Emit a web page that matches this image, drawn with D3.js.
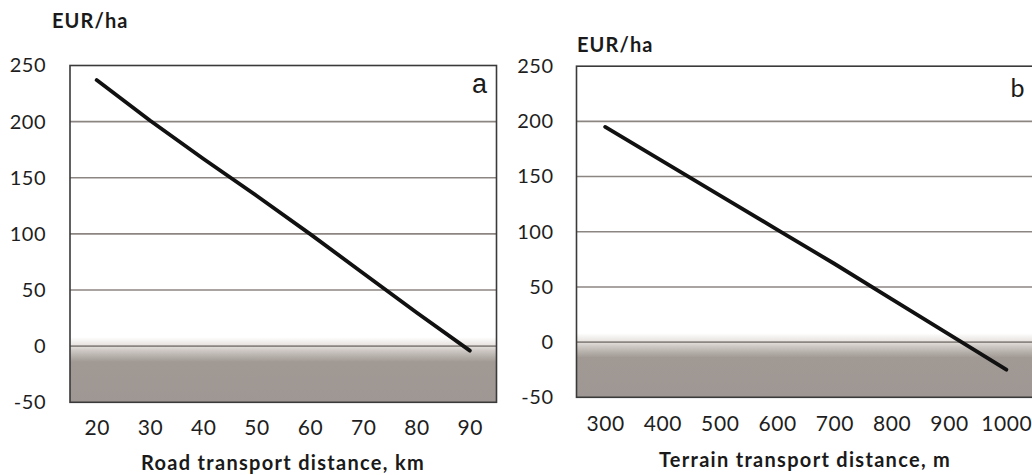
<!DOCTYPE html>
<html>
<head>
<meta charset="utf-8">
<script src="https://cdn.jsdelivr.net/npm/d3@7"></script>
<style>
  body { margin: 0; background: #fff; }
  svg text { font-family: Lato, "Open Sans", sans-serif; }
</style>
</head>
<body>
<div id="chart"></div>
<script>
// y axis is shared by both panels
const yTicks = [-50, 0, 50, 100, 150, 200, 250];

// panel a: road transport
const roadTicks = [20, 30, 40, 50, 60, 70, 80, 90];
const roadKm = [20, 30, 40, 50, 60, 70, 80, 90];
const roadValue = [237, 201, 167, 134, 100, 65, 30, -4];

// panel b: terrain transport
const terrainTicks = [300, 400, 500, 600, 700, 800, 900, 1000];
const terrainM = [300, 400, 500, 600, 700, 800, 900, 1000];
const terrainValue = [195, 164, 133, 102, 71, 39, 7, -25];

const width = 1032;
const height = 475;

const svg = d3.select('#chart')
  .append('svg')
  .attr('width', width)
  .attr('height', height);

const defs = svg.append('defs');

// plain hyphen for negatives, like the original
const fmt = (d) => String(d);

const drawPanel = (p) => {
  const xScale = d3.scaleLinear().domain(p.xDomain).range([p.left, p.right]);
  const yScale = d3.scaleLinear().domain([-50, 250]).range([p.bottom, p.top]);

  const g = svg.append('g');

  // shading below zero, fading in from just above the 0 line
  const gradId = `shade-${p.name}`;
  const y0 = yScale(8);
  const y1 = yScale(-50);
  const frac = (v) => (yScale(v) - y0) / (y1 - y0);
  const grad = defs.append('linearGradient')
    .attr('id', gradId)
    .attr('x1', 0).attr('x2', 0).attr('y1', 0).attr('y2', 1);
  grad.append('stop').attr('offset', 0).attr('stop-color', '#ffffff');
  grad.append('stop').attr('offset', frac(0)).attr('stop-color', '#e4e0dc');
  grad.append('stop').attr('offset', frac(-4)).attr('stop-color', '#cdc8c3');
  grad.append('stop').attr('offset', frac(-14)).attr('stop-color', '#a09994');
  grad.append('stop').attr('offset', 1).attr('stop-color', '#9e9793');

  g.append('rect')
    .attr('x', p.left)
    .attr('y', y0)
    .attr('width', p.right - p.left)
    .attr('height', y1 - y0)
    .attr('fill', `url(#${gradId})`);

  // gridlines
  g.selectAll('line.grid')
    .data(yTicks.filter((t) => t > -50 && t < 250))
    .enter()
    .append('line')
    .attr('class', 'grid')
    .attr('x1', p.left)
    .attr('x2', p.right)
    .attr('y1', (d) => yScale(d))
    .attr('y2', (d) => yScale(d))
    .attr('stroke', '#8c8683')
    .attr('stroke-width', 1.6);

  // frame
  g.append('rect')
    .attr('x', p.left)
    .attr('y', p.top)
    .attr('width', p.right - p.left)
    .attr('height', p.bottom - p.top)
    .attr('fill', 'none')
    .attr('stroke', '#3a3a3a')
    .attr('stroke-width', 1.6);

  // axes
  const yAxis = d3.axisLeft(yScale).tickValues(yTicks).tickSize(0).tickPadding(p.yPad)
    .tickFormat(fmt);
  g.append('g')
    .attr('transform', `translate(${p.left}, 0)`)
    .call(yAxis)
    .call((a) => a.select('.domain').remove())
    .selectAll('text')
    .attr('font-size', 20)
    .attr('letter-spacing', 0.5)
    .attr('fill', '#1e1e1e')
    .style('font-family', 'Lato, sans-serif');

  const xAxis = d3.axisBottom(xScale).tickValues(p.ticks).tickSize(0).tickPadding(p.xPad)
    .tickFormat(fmt);
  g.append('g')
    .attr('transform', `translate(0, ${p.bottom})`)
    .call(xAxis)
    .call((a) => a.select('.domain').remove())
    .selectAll('text')
    .attr('font-size', 21)
    .attr('letter-spacing', 0.6)
    .attr('fill', '#1e1e1e')
    .style('font-family', 'Lato, sans-serif');

  // data line
  const line = d3.line()
    .x((d, i) => xScale(p.xs[i]))
    .y((d) => yScale(d));

  g.append('path')
    .datum(p.ys)
    .attr('d', line)
    .attr('fill', 'none')
    .attr('stroke', '#111')
    .attr('stroke-width', 3.8)
    .attr('stroke-linecap', 'round')
    .attr('stroke-linejoin', 'round');

  // unit label
  g.append('text')
    .attr('x', p.unitX)
    .attr('y', p.unitY)
    .attr('font-size', 20)
    .attr('font-weight', 'bold')
    .attr('letter-spacing', 1.1)
    .attr('fill', '#1a1a1a')
    .text('EUR/ha');

  // axis title
  g.append('text')
    .attr('x', p.titleX)
    .attr('y', p.titleY)
    .attr('text-anchor', 'middle')
    .attr('font-size', 20)
    .attr('font-weight', 'bold')
    .attr('letter-spacing', 1.3)
    .attr('fill', '#1a1a1a')
    .text(p.title);

  // panel letter
  g.append('text')
    .attr('x', p.letterX)
    .attr('y', p.letterY)
    .attr('text-anchor', 'end')
    .attr('font-size', p.letterSize)
    .style('font-family', p.letterFont)
    .attr('fill', '#1a1a1a')
    .text(p.name);
};

drawPanel({
  name: 'a',
  xDomain: [15, 95],
  ticks: roadTicks,
  xs: roadKm,
  ys: roadValue,
  left: 70,
  right: 496.5,
  top: 65.5,
  bottom: 402.3,
  yPad: 24,
  xPad: 18,
  unitX: 52,
  unitY: 28,
  title: 'Road transport distance, km',
  titleX: 283,
  titleY: 470,
  letterX: 487,
  letterY: 92.5,
  letterSize: 27,
  letterFont: '"Liberation Sans", Arial, sans-serif',
});

drawPanel({
  name: 'b',
  xDomain: [250, 1050],
  ticks: terrainTicks,
  xs: terrainM,
  ys: terrainValue,
  left: 576.5,
  right: 1035,
  top: 66.2,
  bottom: 397.3,
  yPad: 23,
  xPad: 18.5,
  unitX: 577,
  unitY: 52,
  title: 'Terrain transport distance, m',
  titleX: 805,
  titleY: 466.5,
  letterX: 1024.5,
  letterY: 96.5,
  letterSize: 25,
  letterFont: 'Lato, sans-serif',
});
</script>
</body>
</html>
